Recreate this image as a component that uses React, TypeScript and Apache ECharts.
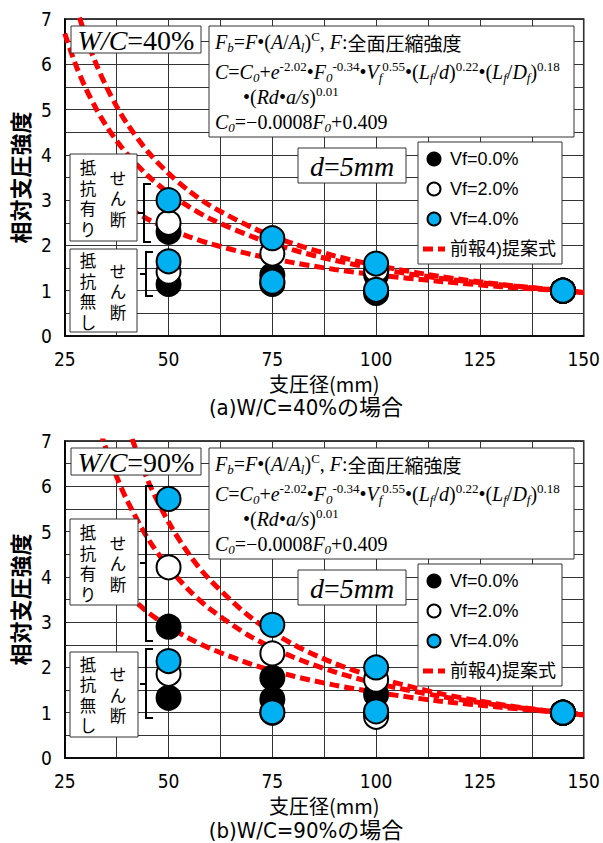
import React, { useEffect, useRef } from 'react';
import * as echarts from 'echarts';

// ---------- data ----------
const diameters = [50, 75, 100, 145];
const vfNames = ['Vf=0.0%', 'Vf=2.0%', 'Vf=4.0%'];
const curveName = '前報4)提案式';

// W/C=40%  (with shear resistance / without shear resistance)
const wc40Vf0Resist = [2.3, 1.34, 1.35, 1.0];
const wc40Vf0NoResist = [1.15, 1.15, 0.95, 1.0];
const wc40Vf2Resist = [2.5, 1.82, 1.45, 1.0];
const wc40Vf2NoResist = [1.42, 1.2, 1.0, 1.0];
const wc40Vf4Resist = [3.0, 2.16, 1.6, 1.0];
const wc40Vf4NoResist = [1.65, 1.2, 1.02, 1.0];

// W/C=90%
const wc90Vf0Resist = [2.9, 1.77, 1.4, 1.0];
const wc90Vf0NoResist = [1.33, 1.3, 1.0, 1.0];
const wc90Vf2Resist = [4.21, 2.31, 1.73, 1.0];
const wc90Vf2NoResist = [1.86, 1.0, 0.91, 1.0];
const wc90Vf4Resist = [5.72, 2.94, 2.0, 1.0];
const wc90Vf4NoResist = [2.14, 1.01, 1.03, 1.0];

// proposed-formula curves
const curveX = [25, 27.5, 30, 32.5, 35, 37.5, 40, 45, 50, 55, 60, 70, 80, 90, 100, 115, 130, 145, 150];
const wc40CurveVf0 = [null, null, null, null, null, 2.99, 2.84, 2.58, 2.37, 2.19, 2.04, 1.8, 1.62, 1.47, 1.35, 1.21, 1.09, 1.0, 0.97];
const wc40CurveVf2 = [6.68, 6.02, 5.48, 5.03, 4.64, 4.31, 4.02, 3.54, 3.16, 2.85, 2.59, 2.2, 1.9, 1.67, 1.49, 1.28, 1.13, 1.0, 0.96];
const wc40CurveVf4 = [null, 7.35, 6.62, 6.02, 5.51, 5.07, 4.69, 4.07, 3.59, 3.2, 2.88, 2.4, 2.04, 1.77, 1.56, 1.32, 1.14, 1.0, 0.96];
const wc90CurveVf0 = [null, null, null, null, null, 3.87, 3.63, 3.22, 2.9, 2.64, 2.42, 2.07, 1.81, 1.61, 1.45, 1.26, 1.12, 1.0, 0.97];
const wc90CurveVf2 = [null, null, null, 7.53, 6.81, 6.21, 5.69, 4.85, 4.21, 3.7, 3.29, 2.67, 2.23, 1.9, 1.65, 1.37, 1.16, 1.0, 0.95];
const wc90CurveVf4 = [null, null, null, null, null, null, 7.36, 6.13, 5.21, 4.49, 3.93, 3.09, 2.51, 2.09, 1.78, 1.43, 1.18, 1.0, 0.95];

const xTicks = [25, 50, 75, 100, 125, 150];
const yTicks = [0, 1, 2, 3, 4, 5, 6, 7];

// ---------- styles ----------
const SERIF = "'Liberation Serif', 'Times New Roman', serif";
const GOTHIC = "'Noto Sans CJK JP', sans-serif";
const NARROW = "'Liberation Sans Narrow', 'DejaVu Sans Condensed', 'Noto Sans CJK JP', sans-serif";
const markerColors = ['#000000', '#ffffff', '#00B0F0'];

const GRID_LEFT = 63;
const GRID_W = 523;
const GRID_H = 317;
const GRID_TOPS = [19, 441];

const formulaRich: any = {
  i: { fontFamily: SERIF, fontStyle: 'italic', fontSize: 20, lineHeight: 24, color: '#000' },
  n: { fontFamily: SERIF, fontSize: 20, lineHeight: 24, color: '#000' },
  sup: { fontFamily: SERIF, fontSize: 13, lineHeight: 12, verticalAlign: 'top', color: '#000' },
  sub: { fontFamily: SERIF, fontStyle: 'italic', fontSize: 13, lineHeight: 12, verticalAlign: 'bottom', color: '#000' },
  jp: { fontFamily: GOTHIC, fontSize: 19, lineHeight: 24, color: '#000' },
  big: { fontFamily: SERIF, fontStyle: 'italic', fontSize: 28, lineHeight: 30, color: '#000' },
  bign: { fontFamily: SERIF, fontSize: 28, lineHeight: 30, color: '#000' },
};

function boxRect(x: number, y: number, w: number, h: number) {
  return {
    type: 'rect',
    z: 100,
    silent: true,
    shape: { x, y, width: w, height: h },
    style: { fill: '#fff', stroke: '#333', lineWidth: 1 },
  };
}

function richText(x: number, y: number, text: string, align = 'left') {
  return {
    type: 'text',
    z: 101,
    silent: true,
    x,
    y,
    style: { text, rich: formulaRich, align, verticalAlign: 'middle' },
  };
}

// vertical text: one element per character, stacked with a fixed pitch
function vText(x: number, yCenter: number, chars: string) {
  const pitch = 20.5;
  const list = chars.split('');
  const y0 = yCenter - ((list.length - 1) * pitch) / 2;
  return list.map((ch, i) => ({
    type: 'text',
    z: 101,
    silent: true,
    x,
    y: y0 + i * pitch,
    style: {
      text: ch,
      fontFamily: GOTHIC,
      fontSize: 16.5,
      fill: '#000',
      align: 'center',
      verticalAlign: 'middle',
    },
  }));
}

function bracket(x: number, y1: number, y2: number, stubY: number) {
  return [
    {
      type: 'polyline',
      z: 101,
      silent: true,
      shape: { points: [[x + 7, y1], [x, y1], [x, y2], [x + 7, y2]] },
      style: { stroke: '#000', lineWidth: 2, fill: null },
    },
    {
      type: 'line',
      z: 101,
      silent: true,
      shape: { x1: x - 6, y1: stubY, x2: x, y2: stubY },
      style: { stroke: '#000', lineWidth: 2 },
    },
  ];
}

function formulaBlock(oy: number, wc: string) {
  return [
    boxRect(71, 26 + oy, 130, 27),
    richText(136, 40 + oy, `{big|W/C}{bign|=${wc}%}`, 'center'),
    boxRect(209, 26 + oy, 365, 111),
    richText(215, 42 + oy, '{i|F}{sub|b}{n|=}{i|F}{n|•(}{i|A}{n|/}{i|A}{sub|l}{n|)}{sup|C}{n|, }{i|F}{n|:}{jp|全面圧縮強度}'),
    richText(215, 72 + oy, '{i|C}{n|=}{i|C}{sub|0}{n|+}{i|e}{sup|-2.02}{n|•}{i|F}{sub|0}{sup|-0.34}{n|•}{i|V}{sub|f}{sup|0.55}{n|•(}{i|L}{sub|f}{n|/}{i|d}{n|)}{sup|0.22}{n|•(}{i|L}{sub|f}{n|/}{i|D}{sub|f}{n|)}{sup|0.18}'),
    richText(243, 97 + oy, '{n|•(}{i|Rd}{n|•}{i|a/s}{n|)}{sup|0.01}'),
    richText(215, 122 + oy, '{i|C}{sub|0}{n|=−0.0008}{i|F}{sub|0}{n|+0.409}'),
    boxRect(298, 148 + oy, 108, 35),
    richText(352, 166 + oy, '{big|d}{bign|=}{big|5mm}', 'center'),
  ];
}

function pairs(a: number[]) {
  return diameters.map((d, i) => [d, a[i]]);
}

function curvePairs(a: (number | null)[]) {
  return curveX.map((x, i) => [x, a[i]]);
}

export default function App() {
  const ref = useRef<HTMLDivElement>(null);

  useEffect(() => {
    if (!ref.current) return;
    const chart = echarts.init(ref.current, undefined, { renderer: 'svg' });

    const pointSets = [
      [
        [wc40Vf0Resist, wc40Vf0NoResist],
        [wc40Vf2Resist, wc40Vf2NoResist],
        [wc40Vf4Resist, wc40Vf4NoResist],
      ],
      [
        [wc90Vf0Resist, wc90Vf0NoResist],
        [wc90Vf2Resist, wc90Vf2NoResist],
        [wc90Vf4Resist, wc90Vf4NoResist],
      ],
    ];
    const curveSets = [
      [wc40CurveVf0, wc40CurveVf2, wc40CurveVf4],
      [wc90CurveVf0, wc90CurveVf2, wc90CurveVf4],
    ];

    const series: any[] = [];
    [0, 1].forEach((g) => {
      curveSets[g].forEach((c) => {
        series.push({
          type: 'line',
          name: curveName,
          xAxisIndex: g,
          yAxisIndex: g,
          data: curvePairs(c),
          smooth: 0.3,
          symbol: 'none',
          showSymbol: false,
          silent: true,
          z: 2,
          clip: true,
          color: '#ff0000',
          lineStyle: { color: '#ff0000', width: 5, type: [10, 5], cap: 'butt' },
        });
      });
      pointSets[g].forEach((set, vi) => {
        series.push({
          type: 'scatter',
          name: vfNames[vi],
          xAxisIndex: g,
          yAxisIndex: g,
          data: [...pairs(set[0]), ...pairs(set[1])],
          symbol: 'circle',
          symbolSize: 24,
          z: 3 + vi,
          silent: true,
          itemStyle: { color: markerColors[vi], borderColor: '#000', borderWidth: 2, opacity: 1 },
        });
      });
    });

    const xAxis = [0, 1].map((g) => ({
      type: 'value',
      gridIndex: g,
      min: xTicks[0],
      max: xTicks[xTicks.length - 1],
      interval: 25,
      axisLine: { show: true, lineStyle: { color: '#000', width: 1.5 } },
      axisTick: { show: false },
      axisLabel: { fontSize: 19, color: '#000', margin: 13, fontFamily: NARROW },
      splitLine: { show: true, lineStyle: { color: '#333', width: 1 } },
      minorTick: { show: false, splitNumber: 2 },
      minorSplitLine: { show: true, lineStyle: { color: '#333', width: 1 } },
      name: '支圧径(mm)',
      nameLocation: 'middle',
      nameGap: 37,
      nameTextStyle: { fontSize: 20, color: '#000', fontFamily: GOTHIC },
    }));

    const yAxis = [0, 1].map((g) => ({
      type: 'value',
      gridIndex: g,
      min: yTicks[0],
      max: yTicks[yTicks.length - 1],
      interval: 1,
      axisLine: { show: true, lineStyle: { color: '#000', width: 1.5 } },
      axisTick: { show: false },
      axisLabel: { fontSize: 19, color: '#000', margin: 13, fontFamily: NARROW },
      splitLine: { show: true, lineStyle: { color: '#333', width: 1 } },
      minorTick: { show: false, splitNumber: 2 },
      minorSplitLine: { show: true, lineStyle: { color: '#333', width: 1 } },
      name: '相対支圧強度',
      nameLocation: 'middle',
      nameRotate: 90,
      nameGap: 30,
      nameTextStyle: { fontSize: 22, fontWeight: 'bold', color: '#000', fontFamily: GOTHIC },
    }));

    const legend = [142, 564].map((top) => ({
      orient: 'vertical',
      left: 418,
      top,
      padding: [8, 6, 6, 5],
      itemGap: 12,
      itemWidth: 22,
      itemHeight: 13,
      backgroundColor: '#fff',
      borderColor: '#333',
      borderWidth: 1,
      selectedMode: false,
      z: 10,
      textStyle: { fontSize: 18, lineHeight: 18, color: '#000', fontFamily: "'Liberation Sans', 'Noto Sans CJK JP', sans-serif" },
      data: [
        ...vfNames,
        {
          name: curveName,
          icon: 'path://M0 0H10V5H0Z M15 0H22V5H15Z',
          itemStyle: { color: '#ff0000', borderWidth: 0 },
        },
      ],
    }));

    const captionStyle = { fontFamily: NARROW, fontSize: 22, fill: '#000', align: 'center', verticalAlign: 'middle' };

    const graphic: any[] = [
      ...formulaBlock(0, '40'),
      ...formulaBlock(422, '90'),
      // top chart side labels
      boxRect(70, 154, 67, 87),
      ...vText(88, 198, '抵抗有り'),
      ...vText(118, 198, 'せん断'),
      boxRect(70, 249, 67, 83),
      ...vText(88, 291, '抵抗無し'),
      ...vText(118, 291, 'せん断'),
      ...bracket(144, 184, 242, 213),
      ...bracket(146, 252, 296, 274),
      // bottom chart side labels
      boxRect(70, 519, 68, 86),
      ...vText(88, 563, '抵抗有り'),
      ...vText(118, 563, 'せん断'),
      boxRect(70, 652, 68, 85),
      ...vText(88, 694.5, '抵抗無し'),
      ...vText(118, 694.5, 'せん断'),
      ...bracket(146, 486, 641, 563),
      ...bracket(146, 649, 718, 684),
      // captions
      { type: 'text', z: 101, silent: true, x: 306, y: 407, style: { text: '(a)W/C=40%の場合', ...captionStyle } },
      { type: 'text', z: 101, silent: true, x: 306, y: 830, style: { text: '(b)W/C=90%の場合', ...captionStyle } },
    ];

    chart.setOption({
      animation: false,
      backgroundColor: '#fff',
      grid: GRID_TOPS.map((top) => ({
        left: GRID_LEFT,
        top,
        width: GRID_W,
        height: GRID_H,
        show: true,
        borderColor: '#000',
        borderWidth: 1.5,
        backgroundColor: 'transparent',
      })),
      xAxis,
      yAxis,
      legend,
      series,
      graphic,
    });

    return () => chart.dispose();
  }, []);

  return <div ref={ref} style={{ position: 'absolute', left: 0, top: 0, width: 603, height: 843 }} />;
}
